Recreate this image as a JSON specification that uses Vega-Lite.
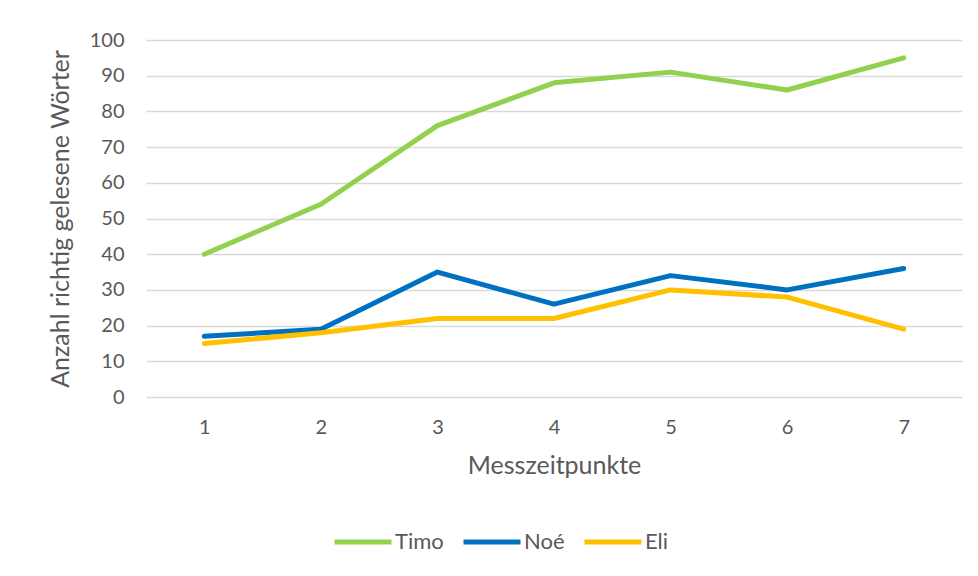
{
  "$schema": "https://vega.github.io/schema/vega-lite/v6.json",
  "width": 816,
  "height": 357,
  "autosize": {"type": "none"},
  "padding": {"left": 146, "top": 40, "right": 16, "bottom": 179},
  "background": "white",
  "config": {
    "view": {"stroke": null},
    "font": "Lato",
    "axis": {"labelFont": "Lato", "titleFont": "Lato", "labelColor": "#595959", "titleColor": "#595959", "titleFontWeight": "normal"},
    "legend": {"labelFont": "Lato", "labelColor": "#595959"}
  },
  "data": {
    "values": [
      {"t": 1, "name": "Timo", "v": 40},
      {"t": 2, "name": "Timo", "v": 54},
      {"t": 3, "name": "Timo", "v": 76},
      {"t": 4, "name": "Timo", "v": 88},
      {"t": 5, "name": "Timo", "v": 91},
      {"t": 6, "name": "Timo", "v": 86},
      {"t": 7, "name": "Timo", "v": 95},
      {"t": 1, "name": "Noé", "v": 17},
      {"t": 2, "name": "Noé", "v": 19},
      {"t": 3, "name": "Noé", "v": 35},
      {"t": 4, "name": "Noé", "v": 26},
      {"t": 5, "name": "Noé", "v": 34},
      {"t": 6, "name": "Noé", "v": 30},
      {"t": 7, "name": "Noé", "v": 36},
      {"t": 1, "name": "Eli", "v": 15},
      {"t": 2, "name": "Eli", "v": 18},
      {"t": 3, "name": "Eli", "v": 22},
      {"t": 4, "name": "Eli", "v": 22},
      {"t": 5, "name": "Eli", "v": 30},
      {"t": 6, "name": "Eli", "v": 28},
      {"t": 7, "name": "Eli", "v": 19}
    ]
  },
  "mark": {"type": "line", "strokeWidth": 5, "strokeCap": "round", "strokeJoin": "round"},
  "encoding": {
    "x": {
      "field": "t", "type": "ordinal",
      "scale": {"type": "point", "padding": 0.5},
      "axis": {"title": "Messzeitpunkte", "labelAngle": 0, "labelFontSize": 20, "titleFontSize": 25, "ticks": false, "domain": false, "labelPadding": 20, "titlePadding": 16, "grid": false}
    },
    "y": {
      "field": "v", "type": "quantitative",
      "scale": {"domain": [0, 100]},
      "axis": {"title": "Anzahl richtig gelesene Wörter", "values": [0,10,20,30,40,50,60,70,80,90,100], "labelFontSize": 20, "titleFontSize": 25, "ticks": false, "domain": false, "labelPadding": 22, "titlePadding": 16, "gridColor": "#d9d9d9", "gridWidth": 1.5}
    },
    "color": {
      "field": "name", "type": "nominal",
      "scale": {"domain": ["Timo", "Noé", "Eli"], "range": ["#92D050", "#0070C0", "#FFC000"]},
      "legend": {"title": null, "orient": "none", "direction": "horizontal", "legendX": 186, "legendY": 471, "symbolType": "stroke", "symbolSize": 3249, "symbolStrokeWidth": 5, "labelFontSize": 22, "labelOffset": 1, "columnPadding": 9}
    }
  }
}
